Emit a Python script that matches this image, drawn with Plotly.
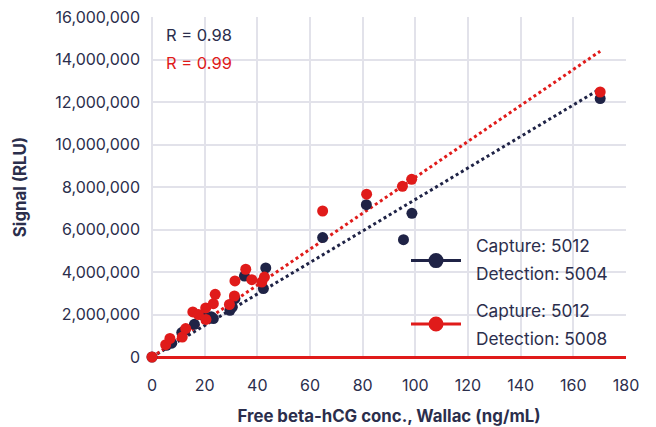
import numpy as np
import plotly.graph_objects as go

# Free beta-hCG concentration (Wallac, ng/mL) vs. signal (RLU) for two antibody pairs
conc_5004 = [0, 5.5, 7.5, 11.3, 12.5, 16.1, 19.5, 22.5, 23.3, 29.6, 30.5, 31.5,
             35.1, 42.3, 43.2, 64.8, 81.4, 95.5, 98.7, 170.2]
rlu_5004 = [0, 550000, 650000, 1150000, 1250000, 1540000, 1950000, 1900000,
            1810000, 2200000, 2350000, 2750000, 3810000, 3220000, 4190000,
            5620000, 7170000, 5520000, 6760000, 12160000]

conc_5008 = [0, 5.2, 6.8, 11.5, 12.8, 15.5, 17.6, 20.4, 20.5, 23.3, 24.0, 29.4,
             31.3, 31.5, 35.6, 37.9, 41.7, 42.7, 64.8, 81.5, 95.1, 98.6, 170.2]
rlu_5008 = [0, 580000, 870000, 940000, 1340000, 2120000, 2000000, 2310000,
            1770000, 2510000, 2950000, 2470000, 2870000, 3580000, 4130000,
            3640000, 3530000, 3760000, 6870000, 7660000, 8030000, 8360000,
            12470000]

series_names = ["Capture: 5012<br>Detection: 5004", "Capture: 5012<br>Detection: 5008"]
r_labels = ["R = 0.98", "R = 0.99"]

x_ticks = list(range(0, 181, 20))
y_ticks = list(range(0, 16000001, 2000000))

NAVY = "#1f2346"
RED = "#e01b1a"
TEXT = "#2b2e4c"
GRID = "#e2e2ea"
FONT = "Inter, Lato, sans-serif"


def origin_fit(x, y):
    x = np.asarray(x, float)
    y = np.asarray(y, float)
    slope = (x * y).sum() / (x * x).sum()
    xs = np.array([0.0, x.max()])
    return xs, slope * xs


fig = go.Figure()

# regression lines through the origin
for xs, ys, col in [(conc_5004, rlu_5004, NAVY), (conc_5008, rlu_5008, RED)]:
    fx, fy = origin_fit(xs, ys)
    fig.add_trace(go.Scatter(x=fx, y=fy, mode="lines", showlegend=False,
                             line=dict(color=col, width=3, dash="3px,3px"),
                             hoverinfo="skip"))

# measured points
fig.add_trace(go.Scatter(x=conc_5004, y=rlu_5004, mode="markers", name=series_names[0],
                         marker=dict(color=NAVY, size=11), cliponaxis=False,
                         showlegend=False))
fig.add_trace(go.Scatter(x=conc_5008, y=rlu_5008, mode="markers", name=series_names[1],
                         marker=dict(color=RED, size=11), cliponaxis=False,
                         showlegend=False))

# correlation labels
for i, (txt, col) in enumerate(zip(r_labels, [TEXT, RED])):
    fig.add_annotation(x=0.025, y=[0.946, 0.864][i], xref="paper", yref="paper",
                       text=txt, showarrow=False, xanchor="left", yanchor="middle",
                       font=dict(family=FONT, size=16.5, color=col))

# key: line + dot symbol with a two-line label for each series
key_rows = [(0.2835, NAVY, series_names[0], (0.3285, 0.2453)),
            (0.0971, RED, series_names[1], (0.1374, 0.0550))]
for ysym, col, name, (y1, y2) in key_rows:
    fig.add_shape(type="line", xref="paper", yref="paper",
                  x0=0.5464, x1=0.6519, y0=ysym, y1=ysym,
                  line=dict(color=col, width=3))
    fig.add_shape(type="circle", xref="paper", yref="paper",
                  xsizemode="pixel", ysizemode="pixel",
                  xanchor=0.5992, yanchor=ysym,
                  x0=-7.5, x1=7.5, y0=-7.5, y1=7.5,
                  fillcolor=col, line=dict(color=col, width=0))
    for yy, line_txt in zip((y1, y2), name.split("<br>")):
        fig.add_annotation(x=0.6793, y=yy, xref="paper", yref="paper",
                           text=line_txt, showarrow=False, xanchor="left",
                           yanchor="middle",
                           font=dict(family=FONT, size=17.3, color=TEXT))

fig.update_layout(
    width=656, height=427,
    margin=dict(l=152, r=30, t=17, b=70),
    plot_bgcolor="white", paper_bgcolor="white",
    font=dict(family=FONT, size=16, color=TEXT),
    showlegend=False,
)
fig.update_xaxes(
    range=[0, 180], tickvals=x_ticks, showgrid=True, gridcolor=GRID, gridwidth=1.8,
    zeroline=True, zerolinecolor=GRID, zerolinewidth=1.8,
    showline=False, ticks="", ticklabelstandoff=17, automargin=False,
    title=dict(text="<b>Free beta-hCG conc., Wallac (ng/mL)</b>",
               font=dict(size=16.8, color=TEXT), standoff=16),
)
fig.update_yaxes(
    range=[0, 16000000], tickvals=y_ticks, tickformat=",d",
    showgrid=True, gridcolor=GRID, gridwidth=1.8,
    zeroline=True, zerolinecolor=RED, zerolinewidth=2.5,
    showline=False, ticks="", ticklabelstandoff=11, automargin=False,
    title=dict(text="<b>Signal (RLU)</b>", font=dict(size=16.8, color=TEXT), standoff=24),
)

fig.write_html("out.html")
